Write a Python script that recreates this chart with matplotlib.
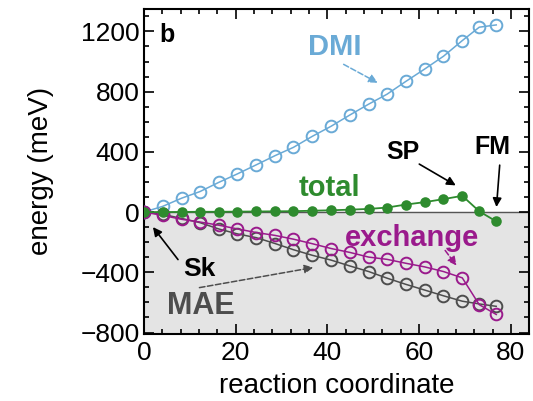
import matplotlib
matplotlib.use("Agg")
import matplotlib.pyplot as plt
from matplotlib.ticker import MultipleLocator

plt.rcParams['font.family'] = ['Liberation Sans', 'DejaVu Sans']

# reaction coordinate of each image along the path
coord = [0, 4.1, 8.2, 12.2, 16.3, 20.4, 24.5, 28.6, 32.6, 36.7,
         40.8, 44.9, 49.0, 53.0, 57.1, 61.2, 65.3, 69.4, 73.1, 76.8]

# energy contributions (meV)
dmi = [0, 38, 92, 136, 197, 254, 314, 375, 430, 503,
       570, 645, 717, 783, 868, 950, 1035, 1139, 1228, 1243]
exchange = [0, -22, -48, -66, -87, -112, -136, -155, -180, -210,
            -242, -268, -299, -314, -340, -364, -395, -437, -615, -680]
mae = [0, -15, -42, -70, -112, -145, -170, -209, -250, -287,
       -319, -358, -395, -439, -480, -518, -556, -592, -610, -626]
total = [0, 0, 1, 2, 2, 3, 4, 5, 6, 9,
         12, 16, 21, 30, 50, 66, 86, 108, 5, -62]

c_dmi = '#6aaad6'
c_exc = '#9a1a8c'
c_mae = '#4d4d4d'
c_tot = '#2e8b2e'

fig = plt.figure(figsize=(5.33, 4.01), dpi=100)
ax = fig.add_axes([0.270, 0.167, 0.723, 0.811])

ymin, ymax = -810, 1350
ax.set_xlim(0, 84)
ax.set_ylim(ymin, ymax)

# shaded negative-energy region and zero line
ax.axhspan(ymin, 0, color='#e4e4e4', zorder=0)
ax.axhline(0, color='#555555', lw=1.0, zorder=1)

open_kw = dict(marker='o', markersize=8.4, markerfacecolor='none',
               markeredgewidth=1.4, lw=1.1)
ax.plot(coord, dmi, color=c_dmi, zorder=3, **open_kw)
ax.plot(coord, mae, color=c_mae, zorder=3, **open_kw)
ax.plot(coord, exchange, color=c_exc, zorder=4, **open_kw)
ax.plot(coord, total, color=c_tot, marker='o', markersize=7.6,
        markeredgewidth=0, lw=1.3, zorder=5)

# axes styling
ax.xaxis.set_major_locator(MultipleLocator(20))
ax.xaxis.set_minor_locator(MultipleLocator(4))
ax.yaxis.set_major_locator(MultipleLocator(400))
ax.yaxis.set_minor_locator(MultipleLocator(100))
ax.tick_params(which='both', direction='in', top=True, right=True,
               labelsize=19, width=1.2)
ax.tick_params(axis='x', pad=5)
ax.tick_params(axis='y', pad=3)
ax.tick_params(which='major', length=7)
ax.tick_params(which='minor', length=3.5)
for s in ax.spines.values():
    s.set_linewidth(1.5)

ax.set_xlabel('reaction coordinate', fontsize=20, labelpad=6)
ax.set_ylabel('energy (meV)', fontsize=20, labelpad=19)

ax.text(0.04, 0.955, 'b', transform=ax.transAxes, fontsize=18,
        fontweight='bold', ha='left', va='top')

# series labels with arrows
ax.text(41.5, 1095, 'DMI', color=c_dmi, fontsize=21, fontweight='bold',
        ha='center', va='center')
ax.annotate('', xy=(51.5, 850), xytext=(43, 990),
            arrowprops=dict(arrowstyle='-|>', color=c_dmi, lw=1.1,
                            linestyle='--', mutation_scale=13))

ax.text(40.5, 158, 'total', color=c_tot, fontsize=21, fontweight='bold',
        ha='center', va='center')

ax.text(58.5, -170, 'exchange', color=c_exc, fontsize=21,
        fontweight='bold', ha='center', va='center')
ax.annotate('', xy=(68.5, -370), xytext=(65.3, -240),
            arrowprops=dict(arrowstyle='-|>', color=c_exc, lw=1.1,
                            linestyle='--', mutation_scale=13))

ax.text(56.5, 400, 'SP', color='black', fontsize=18, fontweight='bold',
        ha='center', va='center')
ax.annotate('', xy=(68.5, 168), xytext=(59.5, 328),
            arrowprops=dict(arrowstyle='-|>', color='black', lw=1.2,
                            mutation_scale=13))

ax.text(76, 430, 'FM', color='black', fontsize=18, fontweight='bold',
        ha='center', va='center')
ax.annotate('', xy=(76.8, 15), xytext=(77.6, 330),
            arrowprops=dict(arrowstyle='-|>', color='black', lw=1.2,
                            mutation_scale=13))

ax.text(12, -375, 'Sk', color='black', fontsize=19, fontweight='bold',
        ha='center', va='center')
ax.annotate('', xy=(1.6, -85), xytext=(7.8, -330),
            arrowprops=dict(arrowstyle='-|>', color='black', lw=1.2,
                            mutation_scale=13))

ax.text(12.5, -625, 'MAE', color=c_mae, fontsize=22, fontweight='bold',
        ha='center', va='center')
ax.annotate('', xy=(37.5, -365), xytext=(11.5, -505),
            arrowprops=dict(arrowstyle='-|>', color=c_mae, lw=1.1,
                            linestyle='--', mutation_scale=13))

fig.savefig('out.png', dpi=100)
